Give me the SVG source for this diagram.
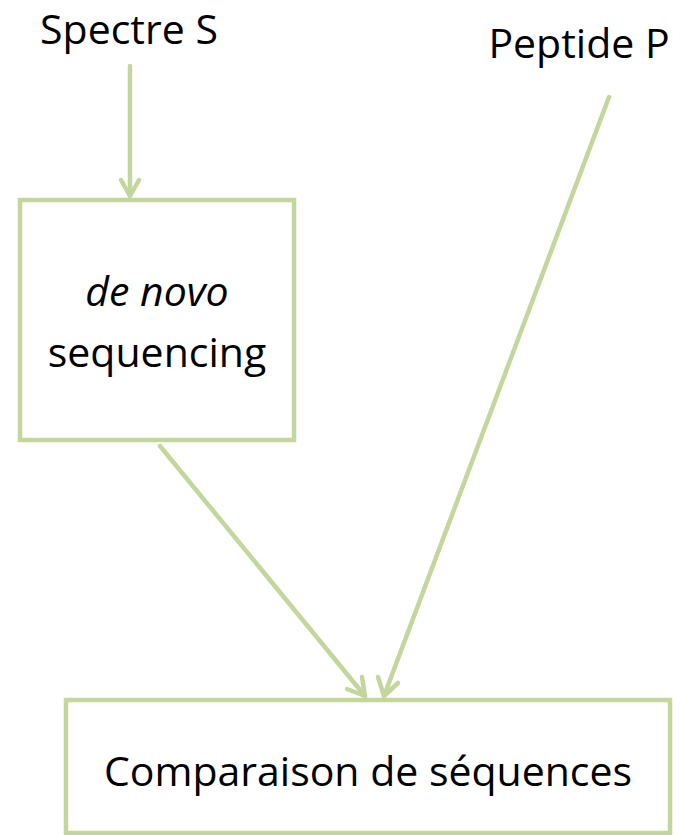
<svg xmlns="http://www.w3.org/2000/svg" width="686" height="835" viewBox="0 0 686 835">
  <style>
    .box { fill: #ffffff; stroke: #c3d69b; stroke-width: 4.5; }
    .edge { fill: none; stroke: #c3d69b; stroke-width: 4.5; stroke-linecap: round; }
    .head { fill: none; stroke: #c3d69b; stroke-width: 4.5; stroke-linecap: round; stroke-linejoin: round; }
    .label { font-family: "Open Sans", "Liberation Sans", sans-serif; font-size: 41px; fill: #000000; text-anchor: middle; }
  </style>
  <rect width="686" height="835" fill="#ffffff"/>

  <g id="spectre">
    <text class="label" x="129" y="44">Spectre S</text>
  </g>
  <g id="peptide">
    <text class="label" x="579" y="58">Peptide P</text>
  </g>
  <g id="denovo">
    <rect class="box" x="20" y="200" width="274" height="240"/>
    <text class="label" x="157" y="306" font-style="italic">de novo</text>
    <text class="label" x="157" y="367">sequencing</text>
  </g>
  <g id="comparaison">
    <rect class="box" x="66" y="700" width="604" height="133"/>
    <text class="label" x="368" y="786">Comparaison de séquences</text>
  </g>

  <g id="connectors">
    <line class="edge" x1="130" y1="66" x2="130" y2="196"/>
    <polyline class="head" points="121,180 130,196 139,180"/>
    <line class="edge" x1="160" y1="446" x2="365" y2="696"/>
    <polyline class="head" points="347,689 365,696 362,677"/>
    <line class="edge" x1="609" y1="97" x2="384" y2="696"/>
    <polyline class="head" points="378,677 384,696 398,683"/>
  </g>
</svg>
